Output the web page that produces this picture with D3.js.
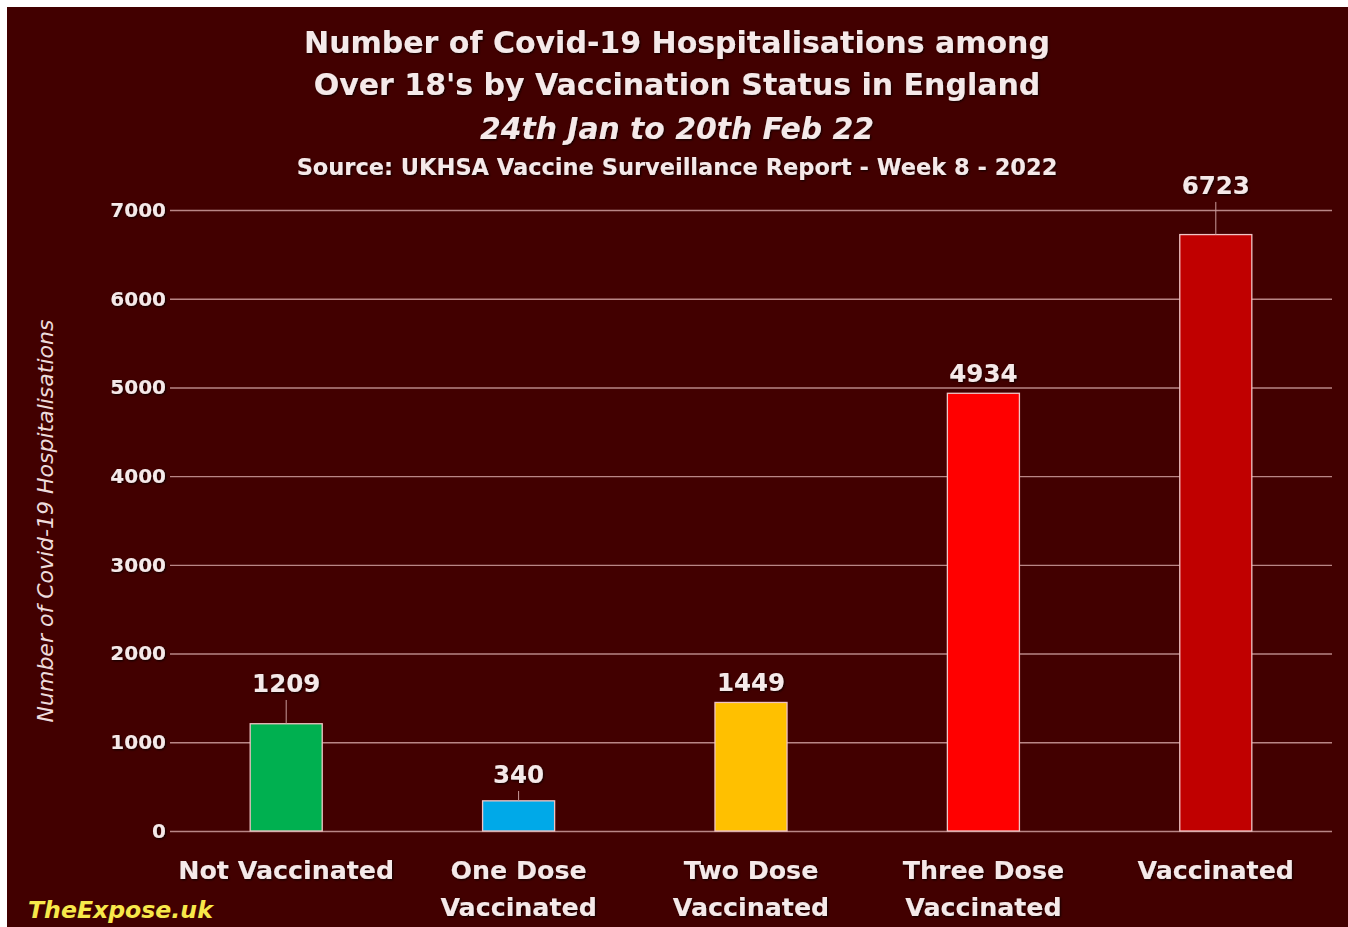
<!DOCTYPE html>
<html>
<head>
<meta charset="utf-8">
<script src="https://cdn.jsdelivr.net/npm/d3@7"></script>
<style>
  html, body { margin: 0; padding: 0; background: #ffffff; }
  svg { display: block; }
  text { font-family: "DejaVu Sans", "Noto Sans", sans-serif; }
</style>
</head>
<body>
<svg id="chart" width="1348" height="927"></svg>
<script>
// Hospitalisations (over 18s) by vaccination status, 24 Jan – 20 Feb 2022
const categories = [
  ["Not Vaccinated"],
  ["One Dose", "Vaccinated"],
  ["Two Dose", "Vaccinated"],
  ["Three Dose", "Vaccinated"],
  ["Vaccinated"]
];
const hospitalisations = [1209, 340, 1449, 4934, 6723];
const barColors = ["#00b050", "#00a9e8", "#ffc000", "#ff0000", "#c00000"];
// label offset above bar top (in data units) for labels drawn with a leader line
const labelLift = [358, 201, 0, 0, 458];
const yTicks = [0, 1000, 2000, 3000, 4000, 5000, 6000, 7000];

const titleLines = [
  "Number of Covid-19 Hospitalisations among",
  "Over 18's by Vaccination Status in England"
];
const subtitle = "24th Jan to 20th Feb 22";
const sourceLine = "Source: UKHSA Vaccine Surveillance Report - Week 8 - 2022";
const yTitle = "Number of Covid-19 Hospitalisations";
const watermark = "TheExpose.uk";

const W = 1348, H = 927;
const svg = d3.select("#chart");

// soft dark halo behind light text
const defs = svg.append("defs");
const f = defs.append("filter").attr("id", "halo").attr("x", "-10%").attr("y", "-30%").attr("width", "120%").attr("height", "160%");
f.append("feDropShadow").attr("dx", 1).attr("dy", 1).attr("stdDeviation", 1.2).attr("flood-color", "#000").attr("flood-opacity", 0.8);

svg.append("rect").attr("x", 7).attr("y", 7).attr("width", W - 7).attr("height", H - 7).attr("fill", "#420000");

const plot = { left: 170, right: 1332, top: 210, bottom: 831 };

const x = d3.scaleBand()
  .domain(d3.range(categories.length))
  .range([plot.left, plot.right])
  .paddingInner(0.69)
  .paddingOuter(0.345);

const y = d3.scaleLinear().domain([0, 7000]).range([plot.bottom, plot.top]);

// gridlines
svg.append("g")
  .attr("transform", `translate(${plot.left},0)`)
  .call(d3.axisLeft(y).tickValues(yTicks).tickSize(-(plot.right - plot.left)).tickFormat(""))
  .call(g => g.select(".domain").remove())
  .call(g => g.selectAll("line").attr("stroke", "#b98686").attr("stroke-width", 1.4));

// y tick labels
svg.append("g")
  .attr("transform", `translate(${plot.left},0)`)
  .call(d3.axisLeft(y).tickValues(yTicks).tickSize(0).tickPadding(4).tickFormat(d3.format("d")))
  .call(g => g.select(".domain").remove())
  .call(g => g.selectAll("text")
    .attr("fill", "#f5e9e9")
    .attr("font-size", 20)
    .attr("font-weight", 700)
    .attr("font-family", "'DejaVu Sans', sans-serif")
    .attr("filter", "url(#halo)"));

// bars
svg.append("g").selectAll("rect")
  .data(hospitalisations)
  .join("rect")
  .attr("x", (d, i) => x(i))
  .attr("y", d => y(d))
  .attr("width", x.bandwidth())
  .attr("height", d => y(0) - y(d))
  .attr("fill", (d, i) => barColors[i])
  .attr("stroke", "#f0c4c4")
  .attr("stroke-width", 1.3);

// leader lines
svg.append("g").selectAll("line")
  .data(hospitalisations.map((v, i) => ({ v, i })).filter(d => labelLift[d.i] > 0))
  .join("line")
  .attr("x1", d => x(d.i) + x.bandwidth() / 2)
  .attr("x2", d => x(d.i) + x.bandwidth() / 2)
  .attr("y1", d => y(d.v))
  .attr("y2", d => y(d.v + labelLift[d.i]) + 8)
  .attr("stroke", "#c99a9a")
  .attr("stroke-width", 1);

// value labels
svg.append("g").selectAll("text")
  .data(hospitalisations)
  .join("text")
  .attr("x", (d, i) => x(i) + x.bandwidth() / 2)
  .attr("y", (d, i) => labelLift[i] > 0 ? y(d + labelLift[i]) : y(d) - 11)
  .attr("text-anchor", "middle")
  .attr("fill", "#f5e9e9")
  .attr("font-size", 24.5)
  .attr("font-weight", 700)
  .attr("filter", "url(#halo)")
  .text(d => d);

// category labels
const cat = svg.append("g").selectAll("text")
  .data(categories)
  .join("text")
  .attr("x", (d, i) => x(i) + x.bandwidth() / 2)
  .attr("y", 879)
  .attr("text-anchor", "middle")
  .attr("fill", "#f5e9e9")
  .attr("font-size", 25.3)
  .attr("font-weight", 700)
  .attr("filter", "url(#halo)");
cat.selectAll("tspan")
  .data((d, i) => d.map(t => ({ t, i })))
  .join("tspan")
  .attr("x", d => x(d.i) + x.bandwidth() / 2)
  .attr("dy", (d, j) => j === 0 ? 0 : 37)
  .text(d => d.t);

// y axis title
svg.append("text")
  .attr("transform", `translate(53,${(320 + 722) / 2}) rotate(-90)`)
  .attr("text-anchor", "middle")
  .attr("fill", "#eedcdc")
  .attr("font-size", 22)
  .attr("font-style", "italic")
  .attr("font-family", "'Open Sans', sans-serif")
  .text(yTitle);

// titles
const cx = 677;
svg.append("text").attr("x", cx).attr("y", 53).attr("text-anchor", "middle")
  .attr("fill", "#f5e9e9").attr("font-size", 30).attr("font-weight", 700).attr("filter", "url(#halo)")
  .text(titleLines[0]);
svg.append("text").attr("x", cx).attr("y", 95).attr("text-anchor", "middle")
  .attr("fill", "#f5e9e9").attr("font-size", 30).attr("font-weight", 700).attr("filter", "url(#halo)")
  .text(titleLines[1]);
svg.append("text").attr("x", cx).attr("y", 139).attr("text-anchor", "middle")
  .attr("fill", "#f5e9e9").attr("font-size", 29.8).attr("font-weight", 700).attr("font-style", "italic").attr("filter", "url(#halo)")
  .text(subtitle);
svg.append("text").attr("x", cx).attr("y", 175).attr("text-anchor", "middle")
  .attr("fill", "#f5e9e9").attr("font-size", 22.5).attr("font-weight", 700).attr("filter", "url(#halo)")
  .text(sourceLine);

// watermark
svg.append("text").attr("x", 28).attr("y", 918)
  .attr("fill", "#f7e84a").attr("font-size", 23.6).attr("font-weight", 700).attr("font-style", "italic")
  .attr("font-family", "'DejaVu Sans', sans-serif")
  .text(watermark);
</script>
</body>
</html>
